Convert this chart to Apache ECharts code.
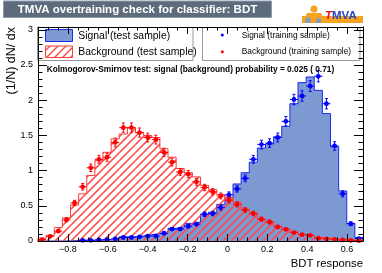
<!DOCTYPE html>
<html>
<head>
<meta charset="utf-8">
<script src="https://cdn.jsdelivr.net/npm/echarts/dist/echarts.min.js"></script>
<style>
html,body{margin:0;padding:0;background:#ffffff;}
#chart{width:382px;height:273px;}
</style>
</head>
<body>
<div id="chart"></div>
<script>
// ---- data ----
const xMin = -0.95, xMax = 0.68, nBins = 40, yMax = 3.04;
const xTickValues = [-0.8, -0.6, -0.4, -0.2, 0, 0.2, 0.4, 0.6];
const yTickValues = [0, 0.5, 1, 1.5, 2, 2.5, 3];

const sigTest = [0, 0, 0, 0.002, 0.005, 0.01, 0.01, 0.015, 0.02, 0.03, 0.06, 0.06, 0.07, 0.09, 0.105, 0.13, 0.18, 0.20, 0.25, 0.27,
  0.38, 0.41, 0.52, 0.62, 0.81, 0.97, 1.12, 1.32, 1.38, 1.48, 1.63, 1.95, 2.25, 2.33, 2.14, 1.81, 1.34, 0.71, 0.25, 0.05];
const bkgTest = [0.04, 0.08, 0.19, 0.33, 0.51, 0.67, 0.93, 1.14, 1.26, 1.45, 1.52, 1.61, 1.54, 1.50, 1.47, 1.31, 1.19, 1.03, 0.97, 0.91,
  0.79, 0.73, 0.66, 0.62, 0.55, 0.45, 0.40, 0.31, 0.27, 0.21, 0.17, 0.13, 0.095, 0.08, 0.05, 0.04, 0.025, 0.018, 0.012, 0.006];
const sigTrain = [0, 0, 0, 0, 0, 0.01, 0.01, 0.015, 0.02, 0.03, 0.05, 0.05, 0.06, 0.07, 0.07, 0.11, 0.17, 0.17, 0.21, 0.24,
  0.38, 0.39, 0.475, 0.655, 0.74, 0.89, 1.16, 1.37, 1.39, 1.47, 1.70, 2.01, 2.06, 2.20, 2.34, 1.95, 1.35, 0.67, 0.245, 0.035];
const sigTrainErr = [0, 0, 0, 0, 0, 0.005, 0.005, 0.006, 0.007, 0.009, 0.012, 0.012, 0.013, 0.014, 0.014, 0.017, 0.021, 0.021, 0.024, 0.025,
  0.032, 0.032, 0.036, 0.042, 0.045, 0.049, 0.056, 0.061, 0.061, 0.063, 0.068, 0.074, 0.075, 0.077, 0.080, 0.073, 0.060, 0.043, 0.026, 0.010];
const bkgTrain = [0.02, 0.067, 0.14, 0.30, 0.54, 0.77, 1.04, 1.16, 1.19, 1.40, 1.61, 1.61, 1.54, 1.47, 1.44, 1.26, 1.12, 0.98, 0.95, 0.84,
  0.76, 0.70, 0.64, 0.58, 0.52, 0.44, 0.39, 0.31, 0.27, 0.20, 0.166, 0.12, 0.09, 0.08, 0.04, 0.03, 0.024, 0.015, 0.01, 0.005];
const bkgTrainErr = [0.007, 0.013, 0.019, 0.028, 0.038, 0.046, 0.053, 0.056, 0.057, 0.062, 0.066, 0.066, 0.065, 0.063, 0.062, 0.058, 0.055, 0.051, 0.051, 0.048,
  0.045, 0.044, 0.042, 0.040, 0.037, 0.034, 0.032, 0.029, 0.027, 0.023, 0.021, 0.018, 0.016, 0.015, 0.010, 0.009, 0.008, 0.006, 0.005, 0.004];

const titleText = 'TMVA overtraining check for classifier: BDT';
const ksText = 'Kolmogorov-Smirnov test: signal (background) probability = 0.025 ( 0.71)';

// ---- helpers ----
const FONT = 'Liberation Sans, Arial, Helvetica, sans-serif';
const bw = (xMax - xMin) / nBins;
const HATCH = 8;
const hatchColor = '#ff4848';
const hatchWidth = 1.5;

function stepData(vals) {
  const d = [[xMin, 0]];
  vals.forEach((v, i) => d.push([xMin + i * bw, v]));
  d.push([xMax, vals[vals.length - 1]]);
  d.push([xMax, 0]);
  return d;
}
function binData(vals) {
  return vals.map((v, i) => [xMin + i * bw, xMin + (i + 1) * bw, v]);
}
function pointData(vals, errs) {
  const d = [];
  vals.forEach((v, i) => { if (v > 0) d.push([xMin + (i + 0.5) * bw, v, errs[i]]); });
  return d;
}
function range(a, b, step, skip) {
  const out = [];
  for (let v = a; v <= b + 1e-9; v += step) {
    const r = Math.round(v * 1000) / 1000;
    if (!skip.some(s => Math.abs(s - r) < 1e-6)) out.push(r);
  }
  return out;
}
const xMinor = range(-0.95, 0.65, 0.05, xTickValues);
const yMinor = range(0.1, 3.0, 0.1, yTickValues);

// diagonal "/" hatch lines clipped to a pixel rectangle (global line family px+py = k*HATCH)
function hatchLines(left, top, right, bottom, color) {
  const out = [];
  const c0 = Math.ceil((left + top) / HATCH) * HATCH;
  for (let c = c0; c <= right + bottom; c += HATCH) {
    const s = Math.max(left, c - bottom);
    const e = Math.min(right, c - top);
    if (e - s > 0.2) out.push({ type: 'line', shape: { x1: s, y1: c - s, x2: e, y2: c - e }, style: { stroke: color, lineWidth: hatchWidth } });
  }
  return out;
}

function xAxisDef(pos, ticks, len, showLabel, showLine) {
  return {
    type: 'value', position: pos, min: xMin, max: xMax, z: 10,
    axisLine: { show: showLine, onZero: false, lineStyle: { color: '#000', width: 1 } },
    splitLine: { show: false },
    axisTick: { show: true, inside: true, length: len, customValues: ticks, lineStyle: { color: '#000', width: 1 } },
    axisLabel: showLabel ? {
      show: true, customValues: ticks, margin: 4, color: '#000', fontFamily: FONT, fontSize: 9,
      formatter: v => (v < 0 ? '\u2212' : '') + String(Math.abs(Math.round(v * 100) / 100))
    } : { show: false }
  };
}
function yAxisDef(pos, ticks, len, showLabel, showLine) {
  return {
    type: 'value', position: pos, min: 0, max: yMax, z: 10,
    axisLine: { show: showLine, onZero: false, lineStyle: { color: '#000', width: 1 } },
    splitLine: { show: false },
    axisTick: { show: true, inside: true, length: len, customValues: ticks, lineStyle: { color: '#000', width: 1 } },
    axisLabel: showLabel ? {
      show: true, customValues: ticks, margin: 5, color: '#000', fontFamily: FONT, fontSize: 9,
      formatter: v => String(Math.round(v * 100) / 100)
    } : { show: false }
  };
}

function pointsRender(color) {
  return function (params, api) {
    const x = api.value(0), y = api.value(1), e = api.value(2);
    const p = api.coord([x, y]);
    const pt = api.coord([x, y + e]);
    const pb = api.coord([x, Math.max(0, y - e)]);
    const hw = api.size([bw, 0])[0] / 2;
    const st = { stroke: color, lineWidth: 1 };
    return {
      type: 'group',
      children: [
        { type: 'line', shape: { x1: p[0] - hw, y1: p[1], x2: p[0] + hw, y2: p[1] }, style: st },
        { type: 'line', shape: { x1: p[0], y1: pt[1], x2: p[0], y2: pb[1] }, style: st },
        { type: 'line', shape: { x1: p[0] - 1.5, y1: pt[1], x2: p[0] + 1.5, y2: pt[1] }, style: st },
        { type: 'line', shape: { x1: p[0] - 1.5, y1: pb[1], x2: p[0] + 1.5, y2: pb[1] }, style: st },
        { type: 'circle', shape: { cx: p[0], cy: p[1], r: 2.4 }, style: { fill: color } }
      ]
    };
  };
}
function hatchRender(params, api) {
  const h = api.value(2);
  if (!(h > 0)) return null;
  const a = api.coord([api.value(0), h]);
  const b = api.coord([api.value(1), 0]);
  return { type: 'group', children: hatchLines(a[0], a[1], b[0], b[1], hatchColor) };
}

const chart = echarts.init(document.getElementById('chart'), null, { renderer: 'canvas' });
const orange = '#f5a321';
const legendHatch = hatchLines(45.5, 46, 72.5, 57.5, hatchColor).map(l => Object.assign(l, { z: 7 }));
chart.setOption({
  animation: false,
  backgroundColor: '#ffffff',
  grid: { left: 38, right: 19, top: 27, bottom: 32, show: false },
  xAxis: [
    xAxisDef('bottom', xTickValues, 7, true, true),
    xAxisDef('bottom', xMinor, 3.5, false, false),
    xAxisDef('top', xTickValues, 7, false, true),
    xAxisDef('top', xMinor, 3.5, false, false)
  ],
  yAxis: [
    yAxisDef('left', yTickValues, 9, true, true),
    yAxisDef('left', yMinor, 4.5, false, false),
    yAxisDef('right', yTickValues, 9, false, true),
    yAxisDef('right', yMinor, 4.5, false, false)
  ],
  series: [
    {
      name: 'Signal (test sample)', type: 'line', step: 'end', data: stepData(sigTest),
      xAxisIndex: 0, yAxisIndex: 0, symbol: 'none', z: 2,
      lineStyle: { color: '#1a2cf0', width: 1 },
      areaStyle: { color: '#7d99d1', opacity: 1 }
    },
    {
      name: 'Background hatch', type: 'custom', data: binData(bkgTest),
      xAxisIndex: 0, yAxisIndex: 0, z: 3, encode: { x: [0, 1], y: 2 },
      renderItem: hatchRender
    },
    {
      name: 'Background (test sample)', type: 'line', step: 'end', data: stepData(bkgTest),
      xAxisIndex: 0, yAxisIndex: 0, symbol: 'none', z: 4,
      lineStyle: { color: '#ff3a3a', width: 1 }
    },
    {
      name: 'Signal (training sample)', type: 'custom', data: pointData(sigTrain, sigTrainErr),
      xAxisIndex: 0, yAxisIndex: 0, z: 5, encode: { x: 0, y: 1 },
      renderItem: pointsRender('#0000ff')
    },
    {
      name: 'Background (training sample)', type: 'custom', data: pointData(bkgTrain, bkgTrainErr),
      xAxisIndex: 0, yAxisIndex: 0, z: 6, encode: { x: 0, y: 1 },
      renderItem: pointsRender('#ff0000')
    }
  ],
  graphic: [
    // title box
    { type: 'rect', shape: { x: 3.5, y: 1, width: 268, height: 16.5 }, style: { fill: '#5d6b7d', stroke: '#8d9bad', lineWidth: 1 }, z: 20 },
    { type: 'text', x: 137.5, y: 9.5, style: { text: titleText, fill: '#ffffff', font: 'bold 11.5px ' + FONT, align: 'center', verticalAlign: 'middle' }, z: 21 },
    // logo
    { type: 'rect', shape: { x: 302, y: 16, width: 61, height: 7 }, style: { fill: orange }, z: 20 },
    { type: 'circle', shape: { cx: 314, cy: 9, r: 3.6 }, style: { fill: orange }, z: 20 },
    { type: 'rect', shape: { x: 306, y: 13, width: 16, height: 4, r: 2 }, style: { fill: orange }, z: 20 },
    { type: 'rect', shape: { x: 305.5, y: 17.5, width: 5, height: 5.5 }, style: { fill: '#8799bb' }, z: 21 },
    { type: 'rect', shape: { x: 316, y: 18.5, width: 5, height: 4.5 }, style: { fill: '#8799bb' }, z: 21 },
    { type: 'text', x: 325, y: 15.5, style: { text: '{t|T}{m|MVA}', verticalAlign: 'middle', rich: {
        t: { fill: '#ee1111', font: 'italic bold 11.5px ' + FONT },
        m: { fill: '#2244c5', font: 'bold 11.5px ' + FONT } } }, z: 22 },
    // left legend
    { type: 'rect', shape: { x: 37.5, y: 27.5, width: 155.5, height: 33 }, style: { fill: '#ffffff', stroke: '#999999', lineWidth: 1 }, z: 6 },
    { type: 'rect', shape: { x: 45.5, y: 29.5, width: 27, height: 12 }, style: { fill: '#7d99d1', stroke: '#1a2cf0', lineWidth: 1 }, z: 7 },
    { type: 'text', x: 78.3, y: 35.8, style: { text: 'Signal (test sample)', fill: '#000', font: '10.4px ' + FONT, verticalAlign: 'middle' }, z: 7 },
    ...legendHatch,
    { type: 'rect', shape: { x: 45.5, y: 46, width: 27, height: 11.5 }, style: { fill: 'none', stroke: '#ff3a3a', lineWidth: 1 }, z: 8 },
    { type: 'text', x: 78.3, y: 52, style: { text: 'Background (test sample)', fill: '#000', font: '10.4px ' + FONT, verticalAlign: 'middle' }, z: 7 },
    // right legend
    { type: 'rect', shape: { x: 202.5, y: 27.5, width: 157.5, height: 33 }, style: { fill: '#ffffff', stroke: '#999999', lineWidth: 1 }, z: 6 },
    { type: 'circle', shape: { cx: 222.3, cy: 35, r: 1.5 }, style: { fill: '#0000ff' }, z: 7 },
    { type: 'text', x: 241.7, y: 35.3, style: { text: 'Signal (training sample)', fill: '#000', font: '8.4px ' + FONT, verticalAlign: 'middle' }, z: 7 },
    { type: 'circle', shape: { cx: 222.3, cy: 51.7, r: 1.5 }, style: { fill: '#ff0000' }, z: 7 },
    { type: 'text', x: 241.7, y: 52, style: { text: 'Background (training sample)', fill: '#000', font: '8.4px ' + FONT, verticalAlign: 'middle' }, z: 7 },
    // KS text
    { type: 'text', x: 46.7, y: 70, style: { text: ksText, fill: '#000', font: 'bold 8.3px ' + FONT, verticalAlign: 'middle' }, z: 7 },
    // axis titles
    { type: 'text', x: 12, y: 27, rotation: Math.PI / 2, style: { text: '(1/N) dN/ dx', fill: '#000', font: '12.5px ' + FONT, align: 'right', verticalAlign: 'middle' }, z: 7 },
    { type: 'text', x: 363, y: 264, style: { text: 'BDT response', fill: '#000', font: '11.3px ' + FONT, align: 'right', verticalAlign: 'middle' }, z: 7 }
  ]
});
</script>
</body>
</html>
